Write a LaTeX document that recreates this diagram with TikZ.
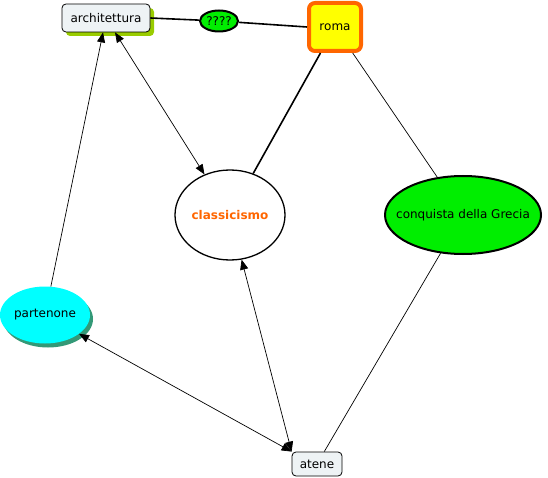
\documentclass[tikz,border=0pt]{standalone}
\usepackage{fontspec}
\setmainfont{DejaVu Sans}
\usetikzlibrary{shapes.geometric,arrows.meta}
\definecolor{boxfill}{HTML}{EEF3F5}
\definecolor{olive}{HTML}{99CC00}
\definecolor{mygreen}{HTML}{00EE00}
\definecolor{myorange}{HTML}{FF6600}
\definecolor{myyellow}{HTML}{FFFF00}
\definecolor{mycyan}{HTML}{00FFFF}
\definecolor{teal2}{HTML}{339977}
\begin{document}
\begin{tikzpicture}[x=1pt,y=-1pt,
  every node/.style={font=\fontsize{12}{14}\selectfont},
  conbox/.style={draw=black,line width=0.8pt,rounded corners=4pt,fill=boxfill,inner sep=0pt},
  greenell/.style={ellipse,draw=black,line width=2pt,fill=mygreen,inner sep=0pt},
  link/.style={line width=0.7pt},
  thicklink/.style={line width=1.6pt},
  tip/.tip={Triangle[length=10pt,width=8pt]},
  arr/.style={line width=0.7pt,-tip},
  darr/.style={line width=0.7pt,tip-tip}
]
\useasboundingbox (0,0) rectangle (548,478);
% shadows
\fill[olive,rounded corners=4pt] (66,8) rectangle (154,36);
\fill[teal2] (48,319) ellipse (45pt and 28.5pt);
% nodes
\node[conbox,minimum width=88pt,minimum height=28pt] (arch) at (106,18) {architettura};
\node[greenell,minimum width=38pt,minimum height=21pt,label=center:{????}] (q) at (219,21) {};
\node[draw=myorange,line width=4pt,fill=myyellow,rounded corners=6pt,minimum width=52pt,minimum height=48pt,inner sep=0pt] (roma) at (335,27) {roma};
\node[ellipse,draw=black,line width=1.3pt,fill=white,minimum width=110pt,minimum height=90pt,inner sep=0pt,
  label={[text=myorange,font=\fontsize{12}{14}\selectfont\bfseries]center:classicismo}] (cl) at (230,215) {};
\node[greenell,minimum width=156pt,minimum height=78pt,label=center:{conquista della Grecia}] (cg) at (463,215) {};
\node[ellipse,fill=mycyan,minimum width=90pt,minimum height=57pt,inner sep=0pt,label=center:partenone] (pa) at (45,315) {};
\node[conbox,minimum width=50pt,minimum height=24pt] (at) at (317,464) {atene};
% connectors
\draw[thicklink] (arch.east) -- (q);
\draw[thicklink] (q) -- (roma.west);
\draw[thicklink] (roma) -- (cl);
\draw[link] (roma) -- (cg);
\draw[link] (cg) -- (at);
\draw[darr] (cl) -- (arch);
\draw[arr] (pa) -- (arch);
\draw[darr] (cl) -- (at.north west);
\draw[darr] (pa) -- (at.north west);
\end{tikzpicture}
\end{document}
